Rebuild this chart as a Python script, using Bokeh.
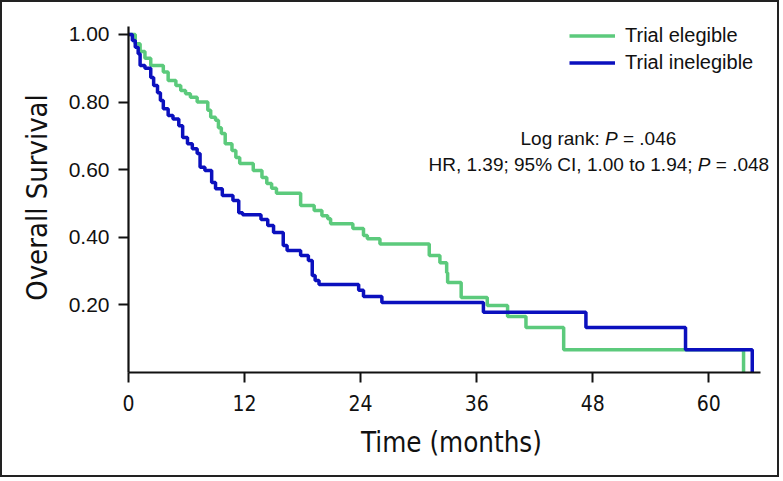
from bokeh.plotting import figure
from bokeh.models import FixedTicker, NumeralTickFormatter, Range1d, Label, Legend
from bokeh.embed import file_html
from bokeh.resources import INLINE

# ---- data ----
elig_t = [0, 0.7, 1.2, 1.7, 2.3, 3.6, 4.1, 4.9, 5.4, 5.9, 6.4, 7.1, 8.2, 8.5, 9.0, 9.3, 9.6,
          10.0, 10.7, 11.1, 11.5, 12.9, 13.8, 14.3, 14.8, 15.3, 17.8, 19.2, 20.0, 20.6, 20.9,
          23.2, 24.3, 24.7, 26.0, 31.1, 32.2, 32.9, 33.0, 34.4, 37.1, 39.2, 41.1, 45.0, 63.6]
elig_s = [1.0, 0.973, 0.95, 0.93, 0.908, 0.889, 0.864, 0.849, 0.834, 0.825, 0.814, 0.80, 0.776,
          0.755, 0.746, 0.724, 0.707, 0.677, 0.657, 0.636, 0.618, 0.598, 0.577, 0.559, 0.545,
          0.53, 0.494, 0.479, 0.464, 0.455, 0.44, 0.426, 0.405, 0.396, 0.38, 0.346, 0.325,
          0.295, 0.266, 0.222, 0.198, 0.166, 0.133, 0.067, 0.0]

inel_t = [0, 0.4, 0.7, 1.0, 1.2, 1.7, 2.3, 2.6, 3.0, 3.3, 3.6, 4.1, 4.6, 5.2, 5.6, 6.1, 6.6,
          7.1, 7.4, 7.9, 8.6, 9.0, 9.7, 10.8, 11.4, 11.8, 13.7, 14.4, 15.0, 16.0, 16.4, 17.8,
          18.6, 19.0, 19.3, 19.7, 23.8, 24.3, 26.2, 36.7, 47.3, 57.6, 64.5]
inel_s = [1.0, 0.982, 0.962, 0.943, 0.908, 0.9, 0.873, 0.849, 0.828, 0.805, 0.78, 0.76, 0.75,
          0.73, 0.695, 0.677, 0.662, 0.648, 0.607, 0.598, 0.562, 0.544, 0.524, 0.509, 0.473,
          0.467, 0.453, 0.435, 0.414, 0.376, 0.361, 0.346, 0.331, 0.287, 0.272, 0.26, 0.243,
          0.225, 0.207, 0.178, 0.133, 0.067, 0.0]

x_ticks = [0, 12, 24, 36, 48, 60]
y_ticks = [0.2, 0.4, 0.6, 0.8, 1.0]
series_names = ["Trial elegible", "Trial inelegible"]

GREEN = "#5cca7c"
BLUE = "#0b10be"
SANS = "Liberation Sans"
NARROW = "DejaVu Sans Condensed"

# frame extends a little beyond the axes so texts are not clipped;
# the axes themselves are bounded
p = figure(width=779, height=477, output_backend="svg", toolbar_location=None,
           x_range=Range1d(0, 66.8), y_range=Range1d(0, 1.0355),
           min_border_left=126, min_border_right=7, min_border_top=20, min_border_bottom=107)
p.styles = {"border": "2px solid #222"}
p.outline_line_color = None
p.xgrid.visible = False
p.ygrid.visible = False

r1 = p.step(elig_t, elig_s, mode="after", line_color=GREEN, line_width=3.5)
r2 = p.step(inel_t, inel_s, mode="after", line_color=BLUE, line_width=3.5)

# tuple location = bottom-left corner of the legend, relative to the frame
legend = Legend(items=[(series_names[0], [r1]), (series_names[1], [r2])],
                location=(441, 296.5), padding=0, spacing=0, margin=0,
                glyph_width=46, glyph_height=27, label_height=27, label_standoff=10,
                label_text_font=SANS, label_text_font_size="20px", label_text_color="#111",
                border_line_color=None, background_fill_alpha=0)
p.add_layout(legend, "center")

for ax in (p.xaxis[0], p.yaxis[0]):
    ax.axis_line_width = 2.2
    ax.axis_line_color = "#111"
    ax.major_tick_line_color = "#111"
    ax.major_tick_line_width = 2
    ax.major_tick_out = 10
    ax.major_tick_in = 0
    ax.minor_tick_line_color = None
    ax.major_label_text_color = "#111"
    ax.axis_label_text_font_style = "normal"
    ax.axis_label_text_color = "#111"
    ax.axis_label_text_font = NARROW

p.xaxis.axis_label_text_font_size = "27.5px"
p.yaxis.axis_label_text_font_size = "29px"
p.xaxis.bounds = (0, 65.4)
p.yaxis.bounds = (0, 1.0237)
p.xaxis.ticker = FixedTicker(ticks=x_ticks)
p.yaxis.ticker = FixedTicker(ticks=y_ticks)
p.yaxis.formatter = NumeralTickFormatter(format="0.00")
p.xaxis.major_label_text_font = NARROW
p.xaxis.major_label_text_font_size = "21px"
p.xaxis.major_label_standoff = 12
p.yaxis.major_label_text_font = SANS
p.yaxis.major_label_text_font_size = "21px"
p.yaxis.major_label_standoff = 9
p.xaxis.axis_label = "Time (months)"
p.yaxis.axis_label = "Overall Survival"
p.xaxis.axis_label_standoff = 12
p.yaxis.axis_label_standoff = 12

NB = "\u00a0"

def piece(x, y, t, style="normal"):
    p.add_layout(Label(x=x, y=y, x_units="screen", y_units="screen", text=t,
                       text_font=SANS, text_font_size="19px", text_font_style=style,
                       text_color="#111", text_baseline="middle", text_align="left"))

fs = 19
# screen units are relative to frame bottom-left
y1 = 234
y2 = 208
x1 = 392
w_a = 4.447 * fs
w_p = 0.667 * fs
piece(x1, y1, "Log rank:")
piece(x1 + w_a, y1, "P", "italic")
piece(x1 + w_a + w_p, y1, NB + "= .046")
x2 = 300
w_b = 14.175 * fs
piece(x2, y2, "HR, 1.39; 95% CI, 1.00 to 1.94;")
piece(x2 + w_b, y2, "P", "italic")
piece(x2 + w_b + w_p, y2, NB + "= .048")

open("out.html", "w").write(file_html(p, INLINE))
